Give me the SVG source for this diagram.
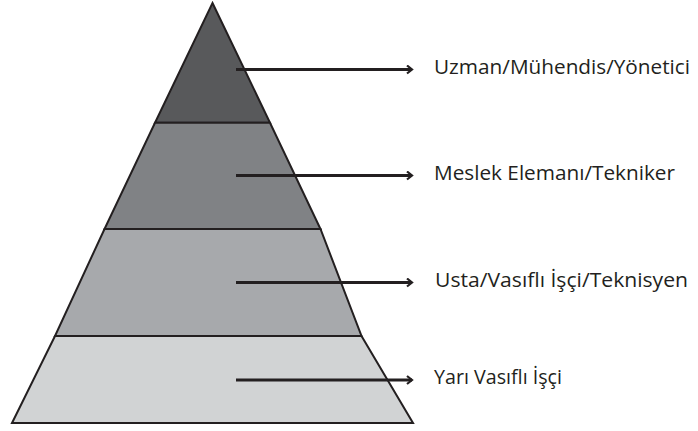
<svg xmlns="http://www.w3.org/2000/svg" width="698" height="431" viewBox="0 0 698 431">
<style>
.lvl{stroke:#231f20;stroke-width:2;stroke-linejoin:miter}
.ar{stroke:#231f20;stroke-width:3;fill:none}
.lbl{font-family:"Open Sans","Noto Sans",sans-serif;font-size:19.5px;fill:#231f20}
</style>
<defs>
<marker id="ah" markerWidth="8" markerHeight="10" refX="6" refY="5" orient="auto" markerUnits="userSpaceOnUse">
<path d="M1,1 L6,5 L1,9" fill="none" stroke="#231f20" stroke-width="2.2"/>
</marker>
</defs>
<rect width="698" height="431" fill="#fff"/>
<g id="level4"><polygon class="lvl" fill="#58595b" points="212.5,3 270,122.7 155,122.7"/></g>
<g id="level3"><polygon class="lvl" fill="#808285" points="155,122.7 270,122.7 320.5,229 104.5,229"/></g>
<g id="level2"><polygon class="lvl" fill="#a7a9ac" points="104.5,229 320.5,229 361.5,336 55,336"/></g>
<g id="level1"><polygon class="lvl" fill="#d1d3d4" points="55,336 361.5,336 413,423 12,423"/></g>
<g id="connectors">
<line class="ar" x1="236" y1="69.5" x2="412" y2="69.5" marker-end="url(#ah)"/>
<line class="ar" x1="236" y1="175.5" x2="412" y2="175.5" marker-end="url(#ah)"/>
<line class="ar" x1="236" y1="282.5" x2="412" y2="282.5" marker-end="url(#ah)"/>
<line class="ar" x1="236" y1="380" x2="412" y2="380" marker-end="url(#ah)"/>
</g>
<g id="labels">
<text class="lbl" x="434" y="74" textLength="256" lengthAdjust="spacingAndGlyphs">Uzman/Mühendis/Yönetici</text>
<text class="lbl" x="434" y="180" textLength="241" lengthAdjust="spacingAndGlyphs">Meslek Elemanı/Tekniker</text>
<text class="lbl" x="435" y="287" textLength="253" lengthAdjust="spacingAndGlyphs">Usta/Vasıflı İşçi/Teknisyen</text>
<text class="lbl" x="434" y="384" textLength="128" lengthAdjust="spacingAndGlyphs">Yarı Vasıflı İşçi</text>
</g>
</svg>
